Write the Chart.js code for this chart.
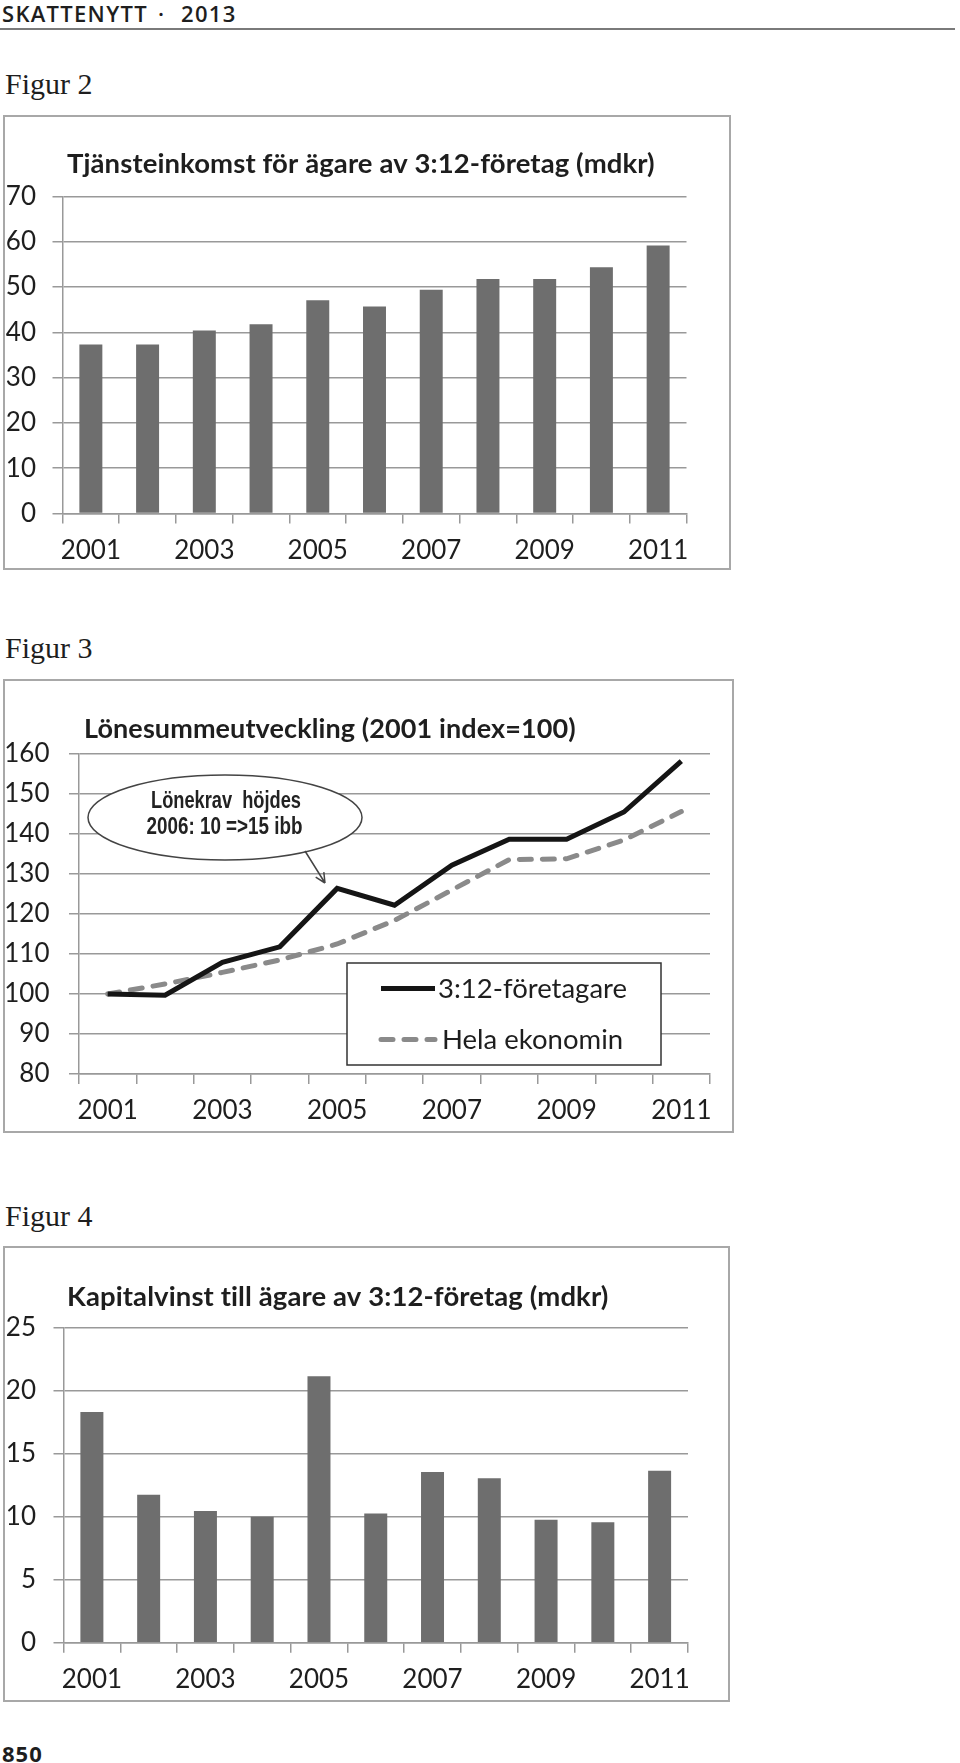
<!DOCTYPE html>
<html><head><meta charset="utf-8">
<script src="https://cdn.jsdelivr.net/npm/chart.js@4.4.1/dist/chart.umd.min.js"></script>
<style>
html,body{margin:0;padding:0;background:#fff}
body{width:960px;height:1763px;position:relative;overflow:hidden}
.t{position:absolute;white-space:nowrap;color:#1e1e1e}
.hdr{font:600 22px 'Open Sans';line-height:22px;letter-spacing:1.3px;top:2px}
.rule{position:absolute;left:0;top:28px;width:955px;height:2px;background:#7a7a7a}
.fig{font:30px 'Liberation Serif';line-height:30px;left:5px}
.pg{font:700 22px 'Open Sans';line-height:22px;left:2px;top:1742px;letter-spacing:1px}
.box{position:absolute;border:2px solid #a8a8a8;box-sizing:border-box}
canvas{position:absolute}
</style></head><body>
<div class="t hdr" style="left:2px">SKATTENYTT</div>
<div class="t hdr" style="left:158px">·</div>
<div class="t hdr" style="left:181px">2013</div>
<div class="rule"></div>
<div class="t fig" style="top:69px">Figur 2</div>
<div class="t fig" style="top:633px">Figur 3</div>
<div class="t fig" style="top:1201px">Figur 4</div>
<div class="t pg">850</div>

<div class="box" style="left:3px;top:115px;width:728px;height:455px"></div>
<div class="box" style="left:3px;top:679px;width:731px;height:454px"></div>
<div class="box" style="left:3px;top:1246px;width:727px;height:456px"></div>
<canvas id="c1" width="728" height="455" style="left:3px;top:115px"></canvas>
<canvas id="c2" width="731" height="454" style="left:3px;top:679px"></canvas>
<canvas id="c3" width="727" height="456" style="left:3px;top:1246px"></canvas>

<script>
// ---------- DATA ----------
const years = ['2001','2002','2003','2004','2005','2006','2007','2008','2009','2010','2011'];
const xLabelEvery = 2;

const fig2Title = 'Tjänsteinkomst för ägare av 3:12-företag (mdkr)';
const fig2Values = [37.3, 37.3, 40.4, 41.8, 47.1, 45.7, 49.4, 51.8, 51.8, 54.4, 59.2];
const fig2YMin = 0, fig2YMax = 70, fig2YStep = 10;

const fig3Title = 'Lönesummeutveckling (2001 index=100)';
const fig3Name1 = '3:12-företagare';
const fig3Values1 = [100, 99.7, 107.9, 111.8, 126.4, 122.2, 132.2, 138.7, 138.7, 145.5, 158.2];
const fig3Name2 = 'Hela ekonomin';
const fig3Values2 = [100, 102.5, 105.4, 108.5, 112.5, 118.4, 126.0, 133.6, 133.8, 138.5, 145.6];
const fig3YMin = 80, fig3YMax = 160, fig3YStep = 10;
const fig3Callout = ['Lönekrav  höjdes', '2006: 10 =>15 ibb'];

const fig4Title = 'Kapitalvinst till ägare av 3:12-företag (mdkr)';
const fig4Values = [18.3, 11.75, 10.45, 10.0, 21.15, 10.25, 13.55, 13.05, 9.75, 9.55, 13.65];
const fig4YMin = 0, fig4YMax = 25, fig4YStep = 5;

// ---------- STYLE ----------
const GRID = '#999999';
const TXT = '#1e1e1e';
const BAR = '#6e6e6e';
const TICK_FONT = {family: 'Lato', size: 26};
const TITLE_FONT = "bold 27.5px Lato";

function titlePlugin(text, x, y, font) {
  return {
    id: 'ctitle',
    afterDraw(chart) {
      const ctx = chart.ctx;
      ctx.save();
      ctx.font = font;
      if ('letterSpacing' in ctx) ctx.letterSpacing = '0.1px';
      ctx.fillStyle = TXT;
      ctx.textAlign = 'left';
      ctx.textBaseline = 'middle';
      ctx.fillText(text, x, y);
      ctx.restore();
    }
  };
}

function scalesFor(g, yMin, yMax, yStep) {
  return {
    x: {
      offset: true,
      grid: {display: true, drawOnChartArea: false, drawTicks: true, tickLength: 10, color: GRID, lineWidth: 1.5, offset: true},
      border: {display: true, color: GRID, width: 1.5},
      ticks: {autoSkip: false, maxRotation: 0, minRotation: 0, padding: g.xpad, font: TICK_FONT, color: TXT,
        callback: (v, i) => (i % xLabelEvery === 0 ? years[i] : '')},
      afterFit: s => { s.height = g.xh; }
    },
    y: {
      min: yMin, max: yMax,
      ticks: {stepSize: yStep, padding: g.ypad, font: TICK_FONT, color: TXT},
      grid: {color: GRID, lineWidth: 1.5, tickLength: 10},
      border: {display: true, color: GRID, width: 1.5},
      afterFit: s => { s.width = g.yw; }
    }
  };
}

const baseOpts = {
  responsive: false, animation: false, devicePixelRatio: 1,
  plugins: {legend: {display: false}, title: {display: false}, tooltip: {enabled: false}}
};

function barChart(id, g, values, yMin, yMax, yStep, title, tx, ty) {
  return new Chart(document.getElementById(id), {
    type: 'bar',
    data: {labels: years, datasets: [{data: values, backgroundColor: BAR, barPercentage: 0.405, categoryPercentage: 1}]},
    options: Object.assign({}, baseOpts, {
      layout: {padding: {top: g.top, right: g.right, left: 0, bottom: 0}},
      scales: scalesFor(g, yMin, yMax, yStep)
    }),
    plugins: [titlePlugin(title, tx, ty, TITLE_FONT)]
  });
}

// Figur 2
barChart('c1', {top: 81.5, right: 44.5, yw: 59.5, xh: 56.5, xpad: 12, ypad: 16.5},
  fig2Values, fig2YMin, fig2YMax, fig2YStep, fig2Title, 64, 49.5);

// Figur 4
barChart('c3', {top: 81.7, right: 42, yw: 60.5, xh: 59.3, xpad: 11, ypad: 17.5},
  fig4Values, fig4YMin, fig4YMax, fig4YStep, fig4Title, 64, 51.5);

// Figur 3
const legendPlugin = {
  id: 'clegend',
  afterDraw(chart) {
    const ctx = chart.ctx;
    ctx.save();
    ctx.fillStyle = '#fff';
    ctx.fillRect(344, 284, 314, 102);
    ctx.strokeStyle = '#333';
    ctx.lineWidth = 1.5;
    ctx.strokeRect(344, 284, 314, 102);
    const rows = [{y: 309.5, tx: 435}, {y: 360.5, tx: 439}];
    chart.data.datasets.forEach((ds, i) => {
      const r = rows[i];
      ctx.save();
      ctx.strokeStyle = ds.borderColor;
      ctx.lineWidth = ds.borderWidth;
      ctx.lineCap = ds.borderCapStyle || 'butt';
      ctx.setLineDash(ds.borderDash || []);
      ctx.beginPath();
      ctx.moveTo(378, r.y);
      ctx.lineTo(432, r.y);
      ctx.stroke();
      ctx.restore();
      ctx.font = '27.5px Lato';
      ctx.fillStyle = TXT;
      ctx.textBaseline = 'middle';
      ctx.textAlign = 'left';
      ctx.fillText(ds.label, r.tx, r.y + 1);
    });
    ctx.restore();
  }
};

const calloutPlugin = {
  id: 'ccallout',
  afterDraw(chart) {
    const ctx = chart.ctx;
    ctx.save();
    ctx.beginPath();
    ctx.ellipse(222, 138.5, 137, 42.5, 0, 0, Math.PI * 2);
    ctx.fillStyle = '#fff';
    ctx.fill();
    ctx.strokeStyle = '#444';
    ctx.lineWidth = 1.5;
    ctx.stroke();
    // arrow
    const x0 = 302, y0 = 172, x1 = 322, y1 = 204;
    ctx.beginPath();
    ctx.moveTo(x0, y0); ctx.lineTo(x1, y1);
    const a = Math.atan2(y1 - y0, x1 - x0);
    const L = 11;
    ctx.moveTo(x1, y1); ctx.lineTo(x1 - L * Math.cos(a - 0.45), y1 - L * Math.sin(a - 0.45));
    ctx.moveTo(x1, y1); ctx.lineTo(x1 - L * Math.cos(a + 0.45), y1 - L * Math.sin(a + 0.45));
    ctx.stroke();
    // text
    ctx.fillStyle = '#222';
    ctx.font = "bold 23.5px 'Liberation Sans'";
    ctx.textAlign = 'center';
    ctx.textBaseline = 'alphabetic';
    const lines = [{t: fig3Callout[0], cx: 223, y: 128.5, w: 150}, {t: fig3Callout[1], cx: 221.5, y: 155, w: 156}];
    lines.forEach(l => {
      const m = ctx.measureText(l.t).width;
      ctx.save();
      ctx.translate(l.cx, l.y);
      ctx.scale(l.w / m, 1);
      ctx.fillText(l.t, 0, 0);
      ctx.restore();
    });
    ctx.restore();
  }
};

const g2 = {top: 75, right: 24, yw: 76, xh: 59, xpad: 11, ypad: 19.5};
new Chart(document.getElementById('c2'), {
  type: 'line',
  data: {
    labels: years,
    datasets: [
      {label: fig3Name1, data: fig3Values1, borderColor: '#151515', borderWidth: 5, pointRadius: 0,
       tension: 0, borderJoinStyle: 'miter', borderCapStyle: 'butt', fill: false},
      {label: fig3Name2, data: fig3Values2, borderColor: '#8a8a8a', borderWidth: 5, pointRadius: 0,
       tension: 0, borderDash: [12, 11], borderCapStyle: 'round', fill: false}
    ]
  },
  options: Object.assign({}, baseOpts, {
    layout: {padding: {top: g2.top, right: g2.right, left: 0, bottom: 0}},
    scales: scalesFor(g2, fig3YMin, fig3YMax, fig3YStep)
  }),
  plugins: [titlePlugin(fig3Title, 81, 50, "bold 27px Lato"), calloutPlugin, legendPlugin]
});
</script>
</body></html>
